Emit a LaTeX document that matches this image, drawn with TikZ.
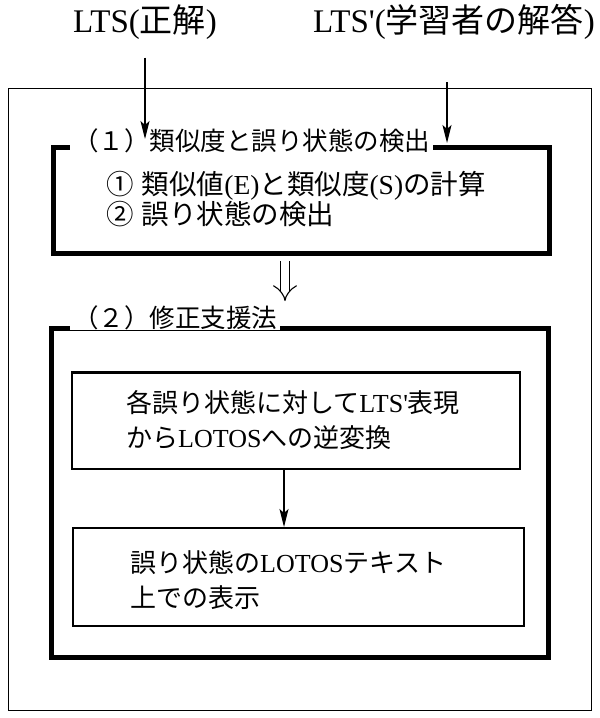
\documentclass[tikz,border=0pt]{standalone}
\usepackage{fontspec}
\setmainfont{Liberation Serif}[Ligatures=TeXOff]
\newfontfamily\jp{Noto Sans CJK JP}
\newcommand{\J}[1]{{\jp #1}}
\usetikzlibrary{arrows.meta}
\begin{document}
\begin{tikzpicture}[x=1pt,y=-1pt,
  outerbox/.style={draw, line width=1.4pt, inner sep=0pt, anchor=north west},
  thickbox/.style={draw, line width=5pt, inner sep=0pt, anchor=north west},
  thinbox/.style={draw, line width=1.7pt, inner sep=0pt, anchor=north west},
  boxtitle/.style={anchor=west, fill=white, inner xsep=3pt, inner ysep=0pt, font=\jp\fontsize{25.5}{25.5}\selectfont},
  bodytext/.style={anchor=west, align=left, inner sep=0pt, font=\fontsize{26}{35}\selectfont},
  itemtext/.style={anchor=west, align=left, inner sep=0pt, font=\fontsize{27.5}{30}\selectfont},
  toplabel/.style={inner sep=0pt, font=\fontsize{33}{33}\selectfont},
  arr/.style={line width=1.2pt, -{Stealth[length=18pt, width=9pt, inset=4pt]}},
  dblarr/.style={double, double distance=7.5pt, line width=1.1pt, -{Implies}}
]
\useasboundingbox (0,0) rectangle (600,718);

% top labels
\node[toplabel] (lab1) at (145,22) {LTS(\J{正解})};
\node[toplabel] (lab2) at (454,22) {LTS'(\J{学習者の解答})};

% outer frame
\node[outerbox, minimum width=583pt, minimum height=622pt] (outer) at (8,88) {};

% box 1
\node[thickbox, minimum width=496pt, minimum height=106pt] (box1) at (51,145) {};
\node[boxtitle] (t1) at (70,141) {（１）類似度と誤り状態の検出};
\node[itemtext] (items) at (106,199) {\J{①\hspace{0.3em}類似値}(E)\J{と類似度}(S)\J{の計算}\\\J{②\hspace{0.3em}誤り状態の検出}};

% double arrow
\coordinate (dtop) at (285,261);
\coordinate (dbot) at (285,301);
\draw[dblarr] (dtop) -- (dbot);

% box 2
\node[thickbox, minimum width=497pt, minimum height=329pt] (box2) at (49,326) {};
\node[boxtitle] (t2) at (70,318) {（２）修正支援法};

% inner boxes
\node[thinbox, minimum width=448pt, minimum height=96pt] (boxA) at (71,372) {};
\draw[line width=2.6pt] (boxA.north west) -- (boxA.north east);
\node[bodytext] (tA) at (126,420) {\J{各誤り状態に対して}LTS'\J{表現}\\\J{から}LOTOS\J{への逆変換}};

\node[thinbox, minimum width=451pt, minimum height=98pt] (boxB) at (72,527) {};
\node[bodytext] (tB) at (130,580) {\J{誤り状態の}LOTOS\J{テキスト}\\\J{上での表示}};

% arrows
\coordinate (acol) at (284,0);
\draw[arr] (boxA.south -| acol) -- (boxB.north -| acol);
\draw[arr, shorten <=18pt, shorten >=6pt] (lab1.south) -- (lab1.south |- box1.north);
\coordinate (a2s) at (447,82);
\draw[arr, shorten >=2pt] (a2s) -- (a2s |- box1.north);
\end{tikzpicture}
\end{document}
